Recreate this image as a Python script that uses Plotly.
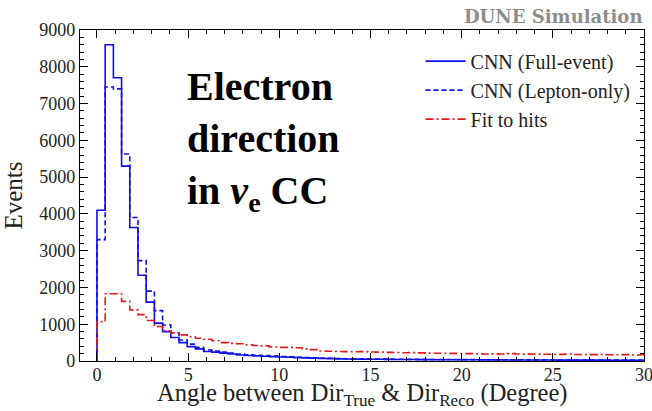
import plotly.graph_objects as go

# Histogram binning (degrees)
BIN_WIDTH = 0.45

# Events per bin, angle between true and reconstructed electron direction
cnn_full_event = [
    4100, 8600, 7700, 5300, 3630, 2330, 1600, 1030, 800, 640,
    500, 390, 330, 260, 240, 215, 190, 165, 150, 140,
    128, 118, 110, 100, 92, 85, 78, 70, 64, 58,
    55, 52, 50, 48, 46, 44, 42, 41, 40, 38,
    37, 36, 35, 34, 33, 33, 32, 31, 30, 30,
    29, 28, 28, 27, 26, 26, 25, 25, 24, 24,
    23, 23, 22, 22, 21, 21, 20,
]
cnn_lepton_only = [
    3300, 7450, 7400, 5630, 3900, 2730, 1900, 1370, 980, 770,
    570, 460, 370, 300, 270, 240, 215, 190, 170, 158,
    145, 133, 122, 112, 104, 96, 88, 80, 73, 67,
    63, 60, 57, 54, 52, 50, 48, 46, 45, 43,
    42, 41, 40, 39, 38, 37, 36, 35, 34, 34,
    33, 32, 31, 31, 30, 29, 29, 28, 27, 27,
    26, 26, 25, 25, 24, 24, 23,
]
fit_to_hits = [
    1070, 1830, 1830, 1620, 1390, 1260, 1100, 940, 820, 770,
    710, 660, 620, 590, 550, 500, 480, 470, 440, 420,
    410, 380, 370, 370, 360, 330, 310, 270, 265, 260,
    255, 250, 255, 245, 240, 235, 230, 225, 228, 220,
    215, 212, 210, 208, 205, 200, 198, 190, 195, 192,
    200, 190, 188, 192, 185, 182, 180, 190, 175, 178,
    172, 175, 170, 168, 172, 165, 170,
]

series = [
    ("CNN (Full-event)", cnn_full_event, "rgb(15,15,230)", "solid"),
    ("CNN (Lepton-only)", cnn_lepton_only, "rgb(15,15,230)", "5px,3px"),
    ("Fit to hits", fit_to_hits, "rgb(228,25,25)", "8px,3px,2px,3px"),
]

SERIF = "Liberation Serif"


def step_outline(counts):
    """Return x/y for an 'hv' step outline starting from zero at the first edge."""
    n = len(counts)
    edges = [i * BIN_WIDTH for i in range(n + 1)]
    xs = [edges[0]] + edges
    ys = [0] + list(counts) + [counts[-1]]
    return xs, ys


fig = go.Figure()
for name, counts, color, dash in series:
    xs, ys = step_outline(counts)
    fig.add_trace(go.Scatter(
        x=xs, y=ys, mode="lines", name=name,
        line=dict(color=color, width=1.6, dash=dash, shape="hv"),
    ))

axis_common = dict(
    showline=True, linecolor="black", linewidth=1.2, mirror="allticks",
    ticks="inside", ticklen=8, tickwidth=1, tickcolor="black",
    showgrid=False, zeroline=False, automargin=False,
    ticklabeloverflow="allow",
    tickfont=dict(family=SERIF, size=18, color="#222"),
)

fig.update_xaxes(
    range=[-0.93, 30], tick0=0, dtick=5,
    minor=dict(ticks="inside", ticklen=4, dtick=1, tickcolor="black"),
    ticklabelstandoff=-3,
    **axis_common,
)
fig.update_yaxes(
    range=[0, 9000], tick0=0, dtick=1000,
    minor=dict(ticks="inside", ticklen=4, dtick=200, tickcolor="black"),
    title=dict(text="Events", font=dict(family=SERIF, size=25, color="#222")),
    **axis_common,
)

fig.update_layout(
    width=652, height=411,
    margin=dict(l=80, r=8, t=30, b=50),
    paper_bgcolor="white", plot_bgcolor="white",
    showlegend=True,
    legend=dict(
        x=0.985, y=0.965, xanchor="right", yanchor="top",
        bgcolor="rgba(0,0,0,0)", borderwidth=0,
        font=dict(family=SERIF, size=20, color="#222"),
        itemwidth=40,
    ),
    annotations=[
        # x-axis title, placed below the tick labels
        dict(
            text="Angle between Dir<sub>True</sub> &amp; Dir<sub>Reco</sub> (Degree)",
            xref="paper", yref="paper", x=0.5, y=-0.1,
            xanchor="center", yanchor="middle", showarrow=False,
            font=dict(family=SERIF, size=24.5, color="#222"),
        ),
        dict(
            text="<b>DUNE Simulation</b>", xref="paper", yref="paper",
            x=1.0, y=1.0, xanchor="right", yanchor="bottom", yshift=1,
            showarrow=False,
            font=dict(family="DejaVu Serif", size=18, color="rgb(140,140,140)"),
        ),
        dict(
            text="<b>Electron<br>direction<br>in <i>ν</i><sub>e</sub> CC</b>",
            xref="paper", yref="paper",
            x=(185 - 80) / 564, y=1 - (62 - 30) / 331,
            xanchor="left", yanchor="top", align="left",
            showarrow=False,
            font=dict(family=SERIF, size=40, color="black"),
        ),
    ],
)

fig.write_html("out.html")
